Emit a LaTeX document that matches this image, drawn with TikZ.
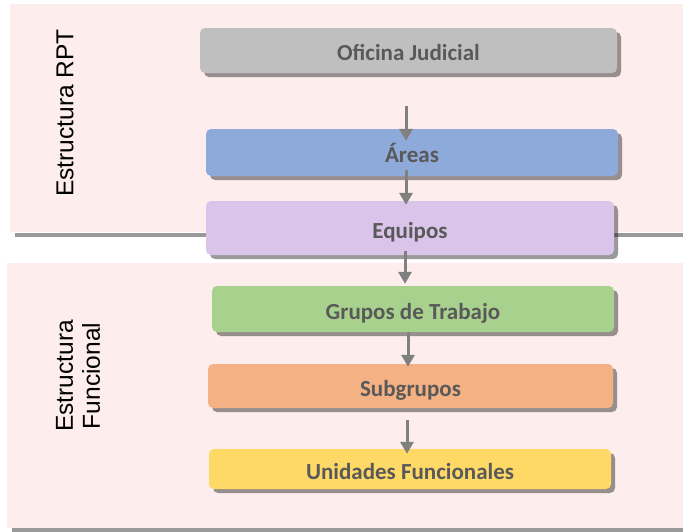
\documentclass[tikz,border=0pt]{standalone}
\usepackage{fontspec}
\setmainfont{Carlito}
\newfontfamily\lblfont{Liberation Sans}
\usetikzlibrary{arrows.meta,shadows,calc}
\definecolor{bgpink}{HTML}{FDEDED}
\definecolor{sepgray}{HTML}{999999}
\definecolor{txtgray}{HTML}{595959}
\definecolor{arrgray}{HTML}{808080}
\definecolor{cofi}{HTML}{BFBFBF}
\definecolor{care}{HTML}{8EAADB}
\definecolor{cequ}{HTML}{DAC4EA}
\definecolor{cgru}{HTML}{A9D18E}
\definecolor{csub}{HTML}{F4B183}
\definecolor{cuni}{HTML}{FFD966}
\tikzset{
  lvlbox/.style={rectangle, rounded corners=5pt, draw=none, inner sep=0pt,
    text height=22pt, text depth=2pt,
    text=txtgray, font=\fontsize{23}{26}\selectfont\bfseries,
    drop shadow={shadow xshift=4pt, shadow yshift=-4pt, opacity=0.4, fill=black}},
  arr/.style={draw=arrgray, line width=3pt, -{Triangle[width=13pt,length=12pt]}},
  sep/.style={draw=sepgray, line width=4pt},
  sidelbl/.style={rotate=90, font=\lblfont\fontsize{24.5}{27}\selectfont, align=center, text=black}
}
\begin{document}
\begin{tikzpicture}[x=1pt,y=-1pt]
\useasboundingbox (0,0) rectangle (683,531);
% backgrounds
\fill[bgpink] (10,4) rectangle (683,232);
\fill[bgpink] (7,263) rectangle (683,528);
\coordinate (s1a) at (15,234.5);
\coordinate (s1b) at (683,234.5);
\coordinate (s2a) at (12,530);
\coordinate (s2b) at (683,530);
\draw[sep] (s1a) -- (s1b);
\draw[sep] (s2a) -- (s2b);
% side labels
\node[sidelbl] (lrpt) at (65,113) {Estructura RPT};
\node[sidelbl] (lfun) at (78,376) {Estructura\\Funcional};
% boxes
\node[lvlbox, fill=cofi, minimum width=417pt, minimum height=45pt] (ofi) at (408.5,50.5) {Oficina Judicial};
\node[lvlbox, fill=care, minimum width=412pt, minimum height=47pt] (are) at (412,152.5) {Áreas};
\node[lvlbox, fill=cequ, minimum width=408pt, minimum height=54pt] (equ) at (410,228) {Equipos};
\node[lvlbox, fill=cgru, minimum width=402pt, minimum height=46pt] (gru) at (413,309) {Grupos de Trabajo};
\node[lvlbox, fill=csub, minimum width=405pt, minimum height=44pt] (sub) at (410.5,386) {Subgrupos};
\node[lvlbox, fill=cuni, minimum width=402pt, minimum height=40pt] (uni) at (410,469) {Unidades Funcionales};
% arrows
\draw[arr] ([xshift=-2.5pt,yshift=-33pt]ofi.south) -- ([xshift=-6pt,yshift=-12pt]are.north);
\draw[arr] ([xshift=-6pt,yshift=6pt]are.south) -- ([xshift=-4pt,yshift=-4pt]equ.north);
\draw[arr] ([xshift=-5pt,yshift=4pt]equ.south) -- ([xshift=-8pt,yshift=2pt]gru.north);
\draw[arr] ([xshift=-5pt,yshift=0pt]gru.south) -- ([xshift=-2.5pt,yshift=-3pt]sub.north);
\draw[arr] ([xshift=-3.5pt,yshift=-12pt]sub.south) -- ([xshift=-3pt,yshift=-5pt]uni.north);
\end{tikzpicture}
\end{document}
